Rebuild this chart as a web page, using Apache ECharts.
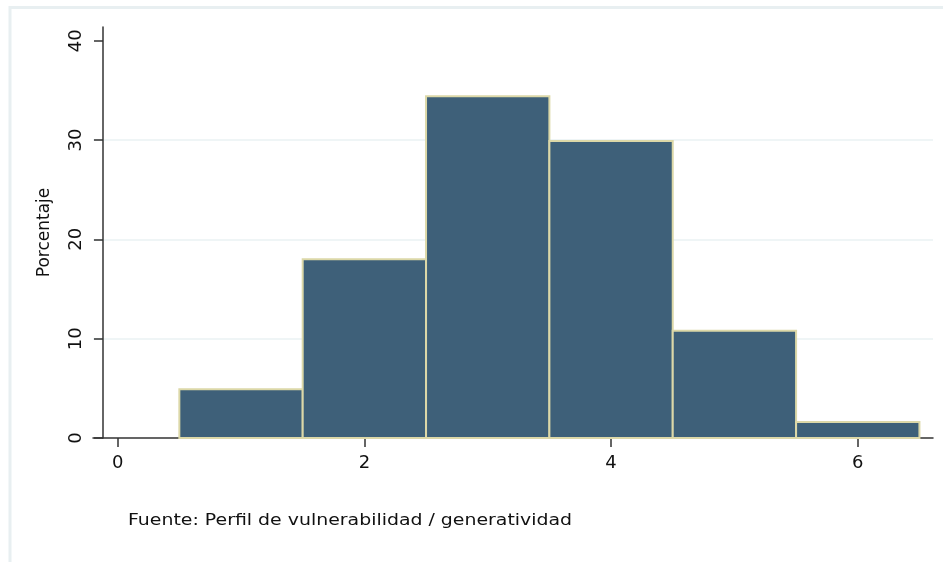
<!DOCTYPE html>
<html>
<head>
<meta charset="utf-8">
<script src="https://cdn.jsdelivr.net/npm/echarts@6/dist/echarts.min.js"></script>
<style>html,body{margin:0;padding:0;background:#fff;}#c{width:943px;height:562px;}</style>
</head>
<body>
<div id="c"></div>
<script>
// Histogram bins (centers) and percentages
var binCenters = [1, 2, 3, 4, 5, 6];
var percentages = [4.9, 18.0, 34.4, 29.9, 10.8, 1.6];
var binWidth = 1;
var xTickValues = [0, 2, 4, 6];
var yTickValues = [0, 10, 20, 30, 40];
var yTitle = 'Porcentaje';
var footnote = 'Fuente: Perfil de vulnerabilidad / generatividad';

var chart = echarts.init(document.getElementById('c'), null, {renderer: 'canvas'});
var data = binCenters.map(function (c, i) { return [c, percentages[i]]; });
var font = 'DejaVu Sans';
var option = {
  animation: false,
  backgroundColor: '#ffffff',
  graphic: [{
    type: 'polyline', silent: true,
    shape: {points: [[10, 562], [10, 7.5], [943, 7.5]]},
    style: {stroke: '#e8eff1', lineWidth: 3, fill: null}
  }, {
    type: 'text', silent: true,
    x: 128, y: 521, scaleX: 1.26,
    style: {text: footnote, fontFamily: font, fontSize: 15, fill: '#111',
            textVerticalAlign: 'middle', verticalAlign: 'middle'}
  }],
  grid: {left: 93, right: 10, top: 27, bottom: 124},
  xAxis: {
    type: 'value', min: -0.2, max: 6.61,
    axisLine: {show: true, onZero: false, lineStyle: {color: '#333', width: 1.5}},
    axisTick: {show: true, customValues: xTickValues, length: 9, lineStyle: {color: '#333', width: 1.5}},
    axisLabel: {customValues: xTickValues, fontFamily: font, fontSize: 18, color: '#111', margin: 16},
    splitLine: {show: false}
  },
  yAxis: {
    type: 'value', min: 0, max: 41.38, interval: 10, offset: -10,
    name: yTitle, nameLocation: 'middle', nameGap: 50, nameRotate: 90,
    nameTextStyle: {fontFamily: font, fontSize: 17, color: '#111'},
    axisLine: {show: true, onZero: false, lineStyle: {color: '#333', width: 1.5}},
    axisTick: {show: true, customValues: yTickValues, length: 9, lineStyle: {color: '#333', width: 1.5}},
    axisLabel: {customValues: yTickValues, rotate: 90, fontFamily: font, fontSize: 18, color: '#111', margin: 18},
    splitLine: {show: true, showMinLine: false, showMaxLine: false, lineStyle: {color: '#eaf2f3', width: 1.5}}
  },
  series: [{
    type: 'custom',
    data: data,
    encode: {x: 0, y: 1},
    renderItem: function (params, api) {
      var c = api.value(0), v = api.value(1);
      var p1 = api.coord([c - binWidth / 2, v]);
      var p2 = api.coord([c + binWidth / 2, 0]);
      return {
        type: 'rect',
        shape: {x: p1[0], y: p1[1], width: p2[0] - p1[0], height: p2[1] - p1[1]},
        style: {fill: '#3e6079', stroke: '#dcd8a8', lineWidth: 2}
      };
    }
  }]
};
chart.setOption(option);
</script>
</body>
</html>
